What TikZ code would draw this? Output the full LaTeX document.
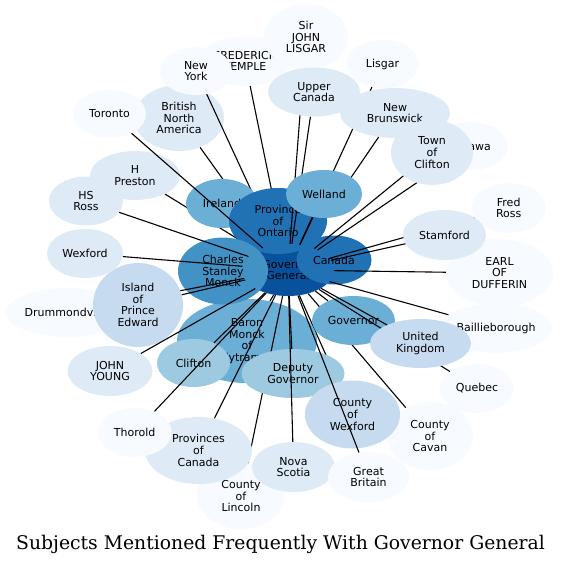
\documentclass[tikz,border=0pt]{standalone}
\usepackage{fontspec}
\usepackage{tikz}
\usetikzlibrary{shapes.geometric,backgrounds}
\newfontfamily\nodefont{DejaVu Sans}
\newfontfamily\titlefont{DejaVu Serif}
\definecolor{blues1}{HTML}{F7FBFF}
\definecolor{blues2}{HTML}{DEEBF7}
\definecolor{blues3}{HTML}{C6DBEF}
\definecolor{blues4}{HTML}{9ECAE1}
\definecolor{blues5}{HTML}{6BAED6}
\definecolor{blues6}{HTML}{4292C6}
\definecolor{blues7}{HTML}{2171B5}
\definecolor{blues8}{HTML}{08519C}
\tikzset{
  subject/.style={ellipse, draw=none, inner sep=0pt, align=center, text=black,
                  font=\nodefont\fontsize{11}{11.7}\selectfont},
  link/.style={draw=black, line width=1.1pt},
  title/.style={font=\titlefont\fontsize{18.8}{22}\selectfont}
}

\begin{document}
\begin{tikzpicture}[x=1pt, y=-1pt]
            \useasboundingbox (0,0) rectangle (561,565);
            % nodes and links, bottom to top
            \node[subject, fill=blues5, minimum width=140pt, minimum height=84pt] (baron) at (247,341) {Baron\\Monck\\of\\Ballytrammon};
            \node[subject, fill=blues8, minimum width=92pt, minimum height=52pt] (gg) at (288,270) {Governor\\General};
            \node[subject, fill=blues2, minimum width=90pt, minimum height=66pt] (bna) at (179,118) {British\\North\\America};
            \node[subject, fill=blues1, minimum width=90pt, minimum height=50pt] (ft) at (245,61) {FREDERICK\\TEMPLE};
            \node[subject, fill=blues1, minimum width=72pt, minimum height=48pt] (ny) at (196,71) {New\\York};
            \node[subject, fill=blues1, minimum width=73pt, minimum height=48pt] (toronto) at (109.5,114) {Toronto};
            \draw[link] (ny) -- (gg);
            \node[subject, fill=blues1, minimum width=84pt, minimum height=66pt] (sjl) at (306,37) {Sir\\JOHN\\LISGAR};
            \node[subject, fill=blues2, minimum width=90pt, minimum height=49pt] (hpreston) at (135,175.5) {H\\Preston};
            \node[subject, fill=blues2, minimum width=74pt, minimum height=49pt] (hsross) at (86,201) {HS\\Ross};
            \node[subject, fill=blues5, minimum width=72pt, minimum height=49pt] (ireland) at (222,203.5) {Ireland};
            \node[subject, fill=blues7, minimum width=98pt, minimum height=66pt] (po) at (278,221) {Province\\of\\Ontario};
            \node[subject, fill=blues6, minimum width=90pt, minimum height=67pt] (charles) at (223,271) {Charles\\Stanley\\Monck};
            \draw[link] (sjl) -- (gg);
            \node[subject, fill=blues2, minimum width=92pt, minimum height=49pt] (uc) at (314,92) {Upper\\Canada};
            \draw[link] (uc) -- (gg);
            \node[subject, fill=blues1, minimum width=73pt, minimum height=48pt] (lisgar) at (382.5,64) {Lisgar};
            \draw[link] (lisgar) -- (gg);
            \node[subject, fill=blues1, minimum width=74pt, minimum height=48pt] (ottawa) at (471,146) {Ottawa};
            \node[subject, fill=blues2, minimum width=110pt, minimum height=50pt] (nb) at (395,113) {New\\Brunswick};
            \node[subject, fill=blues5, minimum width=76pt, minimum height=48pt] (welland) at (324,194) {Welland};
            \draw[link] (welland) -- (gg);
            \node[subject, fill=blues7, minimum width=75pt, minimum height=49pt] (canada) at (334,260) {Canada};
            \draw[link] (ottawa) -- (gg);
            \node[subject, fill=blues2, minimum width=82pt, minimum height=65pt] (toc) at (432,152.5) {Town\\of\\Clifton};
            \node[subject, fill=blues1, minimum width=74pt, minimum height=50pt] (fredross) at (508.7,208) {Fred\\Ross};
            \draw[link] (fredross) -- (gg);
            \node[subject, fill=blues1, minimum width=107pt, minimum height=68pt] (earl) at (499.5,273) {EARL\\OF\\DUFFERIN};
            \node[subject, fill=blues2, minimum width=83pt, minimum height=50pt] (stamford) at (444.5,235) {Stamford};
            \node[subject, fill=blues1, minimum width=110pt, minimum height=50pt] (baillie) at (496,328) {Baillieborough};
            \node[subject, fill=blues5, minimum width=83pt, minimum height=49pt] (governor) at (353.5,320.5) {Governor};
            \node[subject, fill=blues1, minimum width=74pt, minimum height=49pt] (quebec) at (477,388.5) {Quebec};
            \draw[link] (quebec) -- (gg);
            \node[subject, fill=blues3, minimum width=101pt, minimum height=49pt] (uk) at (420.5,343.5) {United\\Kingdom};
            \node[subject, fill=blues1, minimum width=122pt, minimum height=49pt] (drummond) at (67,312.5) {Drummondville};
            \draw[link] (drummond) -- (gg);
            \node[subject, fill=blues3, minimum width=90pt, minimum height=84pt] (pei) at (138,305) {Island\\of\\Prince\\Edward};
            \node[subject, fill=blues2, minimum width=76pt, minimum height=49pt] (wexford) at (85,253.5) {Wexford};
            \node[subject, fill=blues2, minimum width=85pt, minimum height=50pt] (jy) at (110,371) {JOHN\\YOUNG};
            \node[subject, fill=blues1, minimum width=88pt, minimum height=66pt] (lincoln) at (241,496) {County\\of\\Lincoln};
            \draw[link] (lincoln) -- (gg);
            \node[subject, fill=blues2, minimum width=107pt, minimum height=67pt] (poc) at (198.5,450.5) {Provinces\\of\\Canada};
            \node[subject, fill=blues1, minimum width=74pt, minimum height=49pt] (thorold) at (134.7,432.3) {Thorold};
            \node[subject, fill=blues4, minimum width=73pt, minimum height=48pt] (clifton) at (193.5,363) {Clifton};
            \node[subject, fill=blues4, minimum width=103pt, minimum height=49pt] (dg) at (293,373.5) {Deputy\\Governor};
            \node[subject, fill=blues2, minimum width=83pt, minimum height=50pt] (ns) at (293.5,467) {Nova\\Scotia};
            \node[subject, fill=blues1, minimum width=81pt, minimum height=50pt] (gb) at (368.5,477) {Great\\Britain};
            \node[subject, fill=blues1, minimum width=86pt, minimum height=68pt] (cavan) at (430,436) {County\\of\\Cavan};
            \node[subject, fill=blues3, minimum width=95pt, minimum height=68pt] (cw) at (352.5,414.5) {County\\of\\Wexford};
            % links on top
            \draw[link] (toronto) -- (gg);
            \draw[link] (hsross) -- (gg);
            \draw[link] (wexford) -- (gg);
            \draw[link] (pei) -- (gg);
            \draw[link] (jy) -- (gg);
            \draw[link] (thorold) -- (gg);
            \draw[link] (clifton) -- (gg);
            \draw[link] (poc) -- (gg);
            \draw[link] (dg) -- (gg);
            \draw[link] (ns) -- (gg);
            \draw[link] (gb) -- (gg);
            \draw[link] (uk) -- (gg);
            \draw[link] (governor) -- (gg);
            \draw[link] (baillie) -- (gg);
            \draw[link] (earl) -- (gg);
            \draw[link] (stamford) -- (gg);
            \draw[link] (toc) -- (gg);
            % links hidden under the nodes
            \begin{scope}[on background layer]
                \draw[link] (hpreston) -- (gg);
                \draw[link] (bna) -- (gg);
                \draw[link] (ft) -- (gg);
                \draw[link] (nb) -- (gg);
                \draw[link] (cavan) -- (gg);
                \draw[link] (cw) -- (gg);
                \draw[link] (ireland) -- (gg);
                \draw[link] (po) -- (gg);
                \draw[link] (charles) -- (gg);
                \draw[link] (canada) -- (gg);
                \draw[link] (baron) -- (gg);
            \end{scope}
            \node[title] (caption) at (280.5,544) {Subjects Mentioned Frequently With Governor General};
        \end{tikzpicture}
\end{document}
